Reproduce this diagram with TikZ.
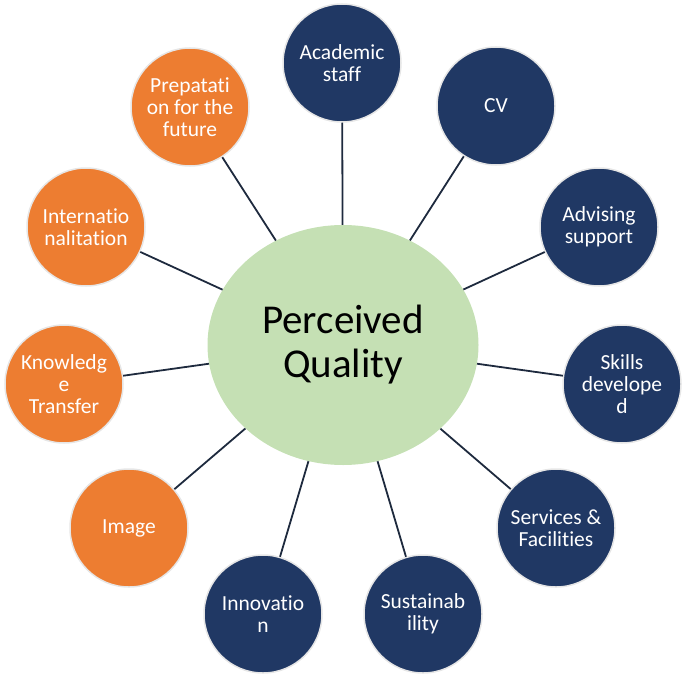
\documentclass[tikz,border=0pt]{standalone}
\usepackage{fontspec}
\setmainfont{Carlito}[Ligatures=NoCommon]
\usetikzlibrary{shapes.geometric}
\definecolor{navy}{HTML}{203864}
\definecolor{orng}{HTML}{ED7D31}
\definecolor{lgreen}{HTML}{C5E0B4}
\definecolor{linkc}{HTML}{1E2A3E}
\definecolor{rimc}{HTML}{E6E6E6}
\tikzset{
  bubble/.style={circle, minimum size=118, inner sep=0pt, draw=rimc, line width=1.5pt,
    text=white, align=center, font=\fontsize{21.5}{21.8}\selectfont},
  darkb/.style={bubble, fill=navy},
  orangeb/.style={bubble, fill=orng},
  hub/.style={ellipse, minimum width=271, minimum height=240, inner sep=0pt, fill=lgreen,
    draw=none, align=center, text=black, font=\fontsize{41}{44}\selectfont},
  link/.style={draw=linkc, line width=1.8pt}
}
\begin{document}
\begin{tikzpicture}[x=1pt, y=-1pt]
\useasboundingbox (0,0) rectangle (685,677);
\node[hub] (pq) at (343,345) {Perceived\\Quality};
\node[darkb] (acad) at (342,63) {Academic\\staff};
\node[darkb] (cv) at (496,106) {CV};
\node[darkb] (adv) at (599,227) {Advising\\support};
\node[darkb] (skills) at (622,384) {Skills\\develope\\d};
\node[darkb] (serv) at (556,528) {Services \&\\Facilities};
\node[darkb] (sust) at (423,614) {Sustainab\\ility};
\node[darkb] (innov) at (263,614) {Innovatio\\n};
\node[orangeb] (image) at (129,528) {Image};
\node[orangeb] (know) at (64,384) {Knowledg\\e\\Transfer};
\node[orangeb] (intl) at (86,227) {Internatio\\nalitation};
\node[orangeb] (prep) at (190,107) {Prepatati\\on for the\\future};
\foreach \n in {acad,cv,adv,skills,serv,sust,innov,image,know,intl,prep}
  \draw[link] (pq) -- (\n);
\end{tikzpicture}
\end{document}
